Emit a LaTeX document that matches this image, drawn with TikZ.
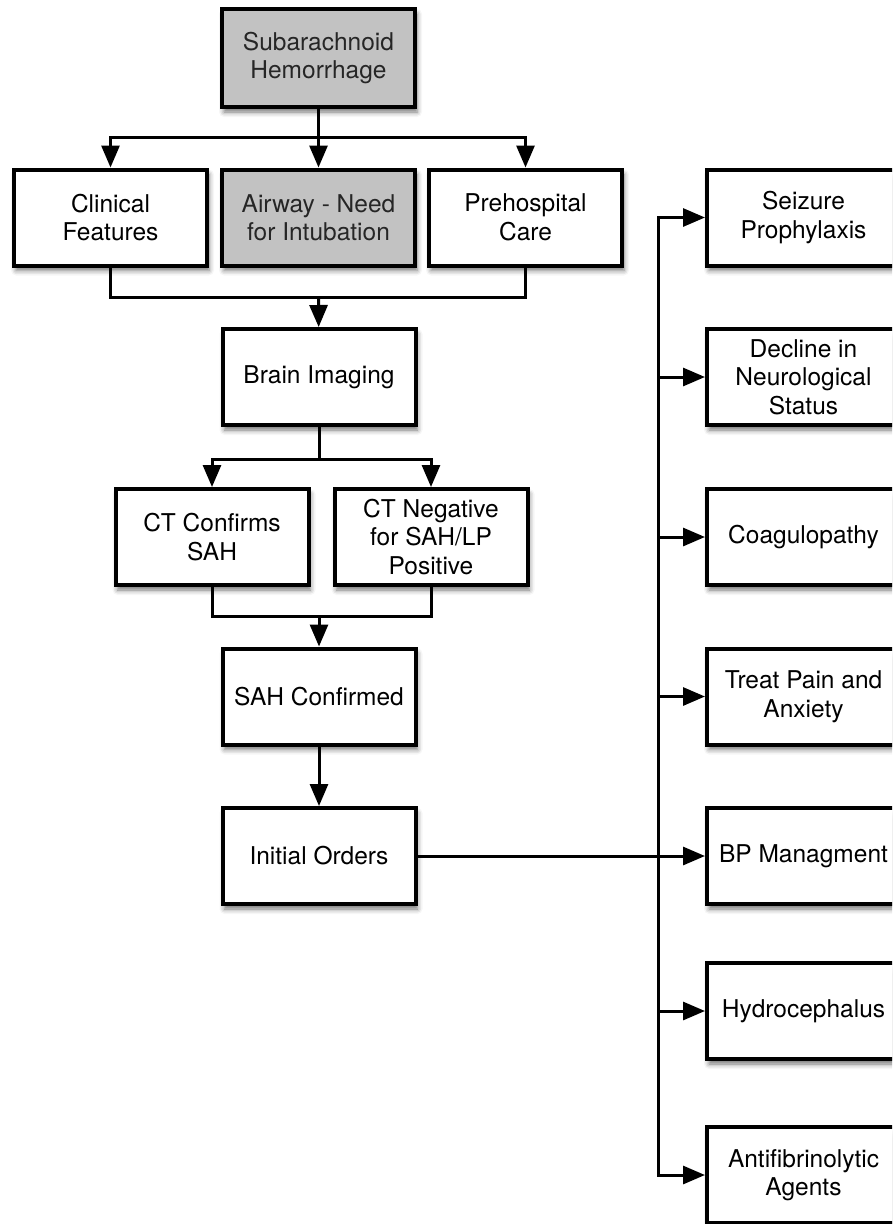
\documentclass[tikz,border=0pt]{standalone}
\usepackage{fontspec}
\setmainfont{TeX Gyre Heros}
\usetikzlibrary{arrows.meta,shadows.blur}

\tikzset{
	box/.style={draw=black, line width=4pt, fill=white, minimum width=193pt, minimum height=96pt,
		inner sep=0pt, align=center, font=\fontsize{24.5}{28.5}\selectfont,
		blur shadow={shadow xshift=2pt, shadow yshift=-5pt, shadow blur radius=5pt, shadow opacity=55}},
	greybox/.style={box, fill=black!24, text=black!85},
	link/.style={line width=3pt},
	arr/.style={link, -{Triangle[length=22pt,width=18pt]}}
}

\begin{document}
\begin{tikzpicture}[x=1pt, y=-1pt]

\useasboundingbox (0,0) rectangle (892,1224);
\clip (0,0) rectangle (892,1224);

\node[greybox] (sah) at (318.5,58) [minimum height=98pt] {Subarachnoid\\Hemorrhage};

\node[box]     (clin)    at (110.5,217.5) {Clinical\\Features};
\node[greybox] (airway)  at (318.5,217.5) {Airway - Need\\for Intubation};
\node[box]     (prehosp) at (525.5,217.5) {Prehospital\\Care};

\node[box] (brain) at (319,377) {Brain Imaging};

\node[box] (ctpos) at (212,537) {CT Confirms\\SAH};
\node[box] (ctneg) at (431,537) {CT Negative\\for SAH/LP\\Positive};

\node[box] (sahconf) at (319,696.5) {SAH Confirmed};
\node[box] (orders)  at (319,856)   {Initial Orders};

\node[box] (seiz)  at (803.5,217.5) {Seizure\\Prophylaxis};
\node[box] (decl)  at (803.5,377)   {Decline in\\Neurological\\Status};
\node[box] (coag)  at (803.5,537)   {Coagulopathy};
\node[box] (pain)  at (803.5,696.5) {Treat Pain and\\Anxiety};
\node[box] (bp)    at (803.5,856)   {BP Managment};
\node[box] (hydro) at (803.5,1011)  {Hydrocephalus};
\node[box] (anti)  at (803.5,1175)  {Antifibrinolytic\\Agents};

\coordinate (s1) at (318.5,137);
\coordinate (m1) at (318.5,297);
\coordinate (s2) at (319,459);
\coordinate (m2) at (319,616);
\coordinate (bt) at (658,217.5);
\coordinate (bb) at (658,1175);

\draw[link] (sah) -- (s1);
\draw[arr] (s1) -| (clin);
\draw[arr] (s1) -- (airway);
\draw[arr] (s1) -| (prehosp);

\draw[link] (clin) |- (m1) -| (prehosp);
\draw[arr] (m1) -- (brain);

\draw[link] (brain) -- (s2);
\draw[arr] (s2) -| (ctpos);
\draw[arr] (s2) -| (ctneg);

\draw[link] (ctpos) |- (m2) -| (ctneg);
\draw[arr] (m2) -- (sahconf);

\draw[arr] (sahconf) -- (orders);
\draw[arr] (orders) -- (bp);

\draw[arr] (bb) -- (bt) -- (seiz);
\draw[arr] (bt) -- (bb) -- (anti);
\draw[arr] (bt |- decl) -- (decl);
\draw[arr] (bt |- coag) -- (coag);
\draw[arr] (bt |- pain) -- (pain);
\draw[arr] (bt |- hydro) -- (hydro);

\end{tikzpicture}
\end{document}
